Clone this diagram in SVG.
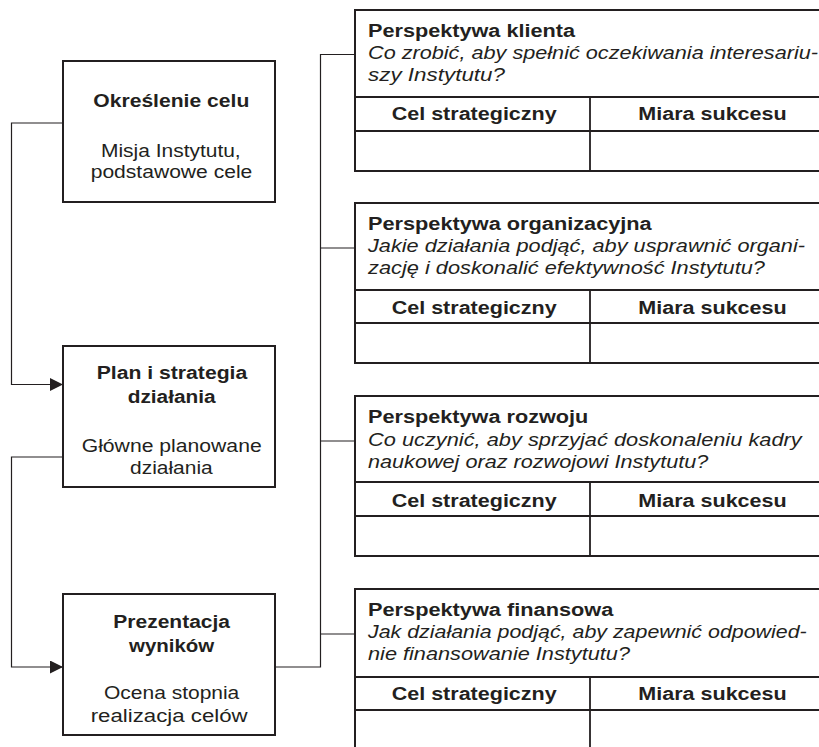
<svg xmlns="http://www.w3.org/2000/svg" width="819" height="747" viewBox="0 0 819 747">
<style>
.box{fill:#fff;stroke:#231f20;stroke-width:2}
.ln{fill:none;stroke:#231f20;stroke-width:1.8}
.cn{fill:none;stroke:#231f20;stroke-width:1.2}
text{font-family:"Liberation Sans",Arial,sans-serif;fill:#231f20;font-size:17.5px}
.b{font-weight:bold}
.i{font-style:italic}
</style>
<defs>
<marker id="arr" markerUnits="userSpaceOnUse" markerWidth="14" markerHeight="14" refX="13" refY="6.5" orient="auto" viewBox="0 0 14 14">
<path d="M0,0 L13,6.5 L0,13 Z" fill="#231f20"/>
</marker>
</defs>
<g id="connectors">
<path class="cn" d="M63,123 H11.5 V384.5 H63" marker-end="url(#arr)"/>
<path class="cn" d="M63,457 H11.5 V667 H63" marker-end="url(#arr)"/>
<path class="cn" d="M275,667 H320.5 V54.5 H355"/>
<path class="cn" d="M320.5,248 H355"/>
<path class="cn" d="M320.5,441 H355"/>
<path class="cn" d="M320.5,634 H355"/>
</g>
<g id="node-okreslenie">
<rect class="box" x="63" y="61" width="212" height="141"/>
<text class="b" x="93.3" y="106.7" textLength="156" lengthAdjust="spacingAndGlyphs">Określenie celu</text>
<text x="101" y="156.7" textLength="139.7" lengthAdjust="spacingAndGlyphs">Misja Instytutu,</text>
<text x="90.7" y="178.3" textLength="161.6" lengthAdjust="spacingAndGlyphs">podstawowe cele</text>
</g>
<g id="node-plan">
<rect class="box" x="63" y="346" width="212" height="141"/>
<text class="b" x="96.7" y="379.3" textLength="150.6" lengthAdjust="spacingAndGlyphs">Plan i strategia</text>
<text class="b" x="127.7" y="403.3" textLength="88" lengthAdjust="spacingAndGlyphs">działania</text>
<text x="81.7" y="451.7" textLength="180" lengthAdjust="spacingAndGlyphs">Główne planowane</text>
<text x="130" y="474" textLength="82.7" lengthAdjust="spacingAndGlyphs">działania</text>
</g>
<g id="node-prezentacja">
<rect class="box" x="63" y="594" width="212" height="141"/>
<text class="b" x="113.3" y="628.3" textLength="116.7" lengthAdjust="spacingAndGlyphs">Prezentacja</text>
<text class="b" x="129" y="651.7" textLength="85.3" lengthAdjust="spacingAndGlyphs">wyników</text>
<text x="104" y="699.3" textLength="135.3" lengthAdjust="spacingAndGlyphs">Ocena stopnia</text>
<text x="90.7" y="722.3" textLength="157" lengthAdjust="spacingAndGlyphs">realizacja celów</text>
</g>
<g id="panel-klienta">
<rect class="box" x="355" y="10" width="480" height="161"/>
<path class="ln" d="M355,97 H835 M355,131 H835 M590,97 V171"/>
<text class="b" x="368" y="37" textLength="207" lengthAdjust="spacingAndGlyphs">Perspektywa klienta</text>
<text class="i" x="368" y="59" textLength="450" lengthAdjust="spacingAndGlyphs">Co zrobić, aby spełnić oczekiwania interesariu-</text>
<text class="i" x="368" y="81" textLength="137" lengthAdjust="spacingAndGlyphs">szy Instytutu?</text>
<text class="b" x="391.7" y="120" textLength="165" lengthAdjust="spacingAndGlyphs">Cel strategiczny</text>
<text class="b" x="638.3" y="120" textLength="148.4" lengthAdjust="spacingAndGlyphs">Miara sukcesu</text>
</g>
<g id="panel-organizacyjna">
<rect class="box" x="355" y="203" width="480" height="160"/>
<path class="ln" d="M355,290 H835 M355,323 H835 M590,290 V363"/>
<text class="b" x="368" y="230" textLength="283.7" lengthAdjust="spacingAndGlyphs">Perspektywa organizacyjna</text>
<text class="i" x="368" y="252" textLength="437" lengthAdjust="spacingAndGlyphs">Jakie działania podjąć, aby usprawnić organi-</text>
<text class="i" x="368" y="274" textLength="397" lengthAdjust="spacingAndGlyphs">zację i doskonalić efektywność Instytutu?</text>
<text class="b" x="391.7" y="313.5" textLength="165" lengthAdjust="spacingAndGlyphs">Cel strategiczny</text>
<text class="b" x="638.3" y="313.5" textLength="148.4" lengthAdjust="spacingAndGlyphs">Miara sukcesu</text>
</g>
<g id="panel-rozwoju">
<rect class="box" x="355" y="396" width="480" height="160"/>
<path class="ln" d="M355,482 H835 M355,516 H835 M590,482 V556"/>
<text class="b" x="368" y="423.3" textLength="220.3" lengthAdjust="spacingAndGlyphs">Perspektywa rozwoju</text>
<text class="i" x="368" y="446" textLength="433.7" lengthAdjust="spacingAndGlyphs">Co uczynić, aby sprzyjać doskonaleniu kadry</text>
<text class="i" x="368" y="467.5" textLength="340.3" lengthAdjust="spacingAndGlyphs">naukowej oraz rozwojowi Instytutu?</text>
<text class="b" x="391.7" y="507" textLength="165" lengthAdjust="spacingAndGlyphs">Cel strategiczny</text>
<text class="b" x="638.3" y="507" textLength="148.4" lengthAdjust="spacingAndGlyphs">Miara sukcesu</text>
</g>
<g id="panel-finansowa">
<rect class="box" x="355" y="589" width="480" height="170"/>
<path class="ln" d="M355,677 H835 M355,710 H835 M590,677 V759"/>
<text class="b" x="368" y="616" textLength="245.3" lengthAdjust="spacingAndGlyphs">Perspektywa finansowa</text>
<text class="i" x="368" y="638" textLength="438.7" lengthAdjust="spacingAndGlyphs">Jak działania podjąć, aby zapewnić odpowied-</text>
<text class="i" x="368" y="660" textLength="262" lengthAdjust="spacingAndGlyphs">nie finansowanie Instytutu?</text>
<text class="b" x="391.7" y="699.5" textLength="165" lengthAdjust="spacingAndGlyphs">Cel strategiczny</text>
<text class="b" x="638.3" y="699.5" textLength="148.4" lengthAdjust="spacingAndGlyphs">Miara sukcesu</text>
</g>
</svg>
